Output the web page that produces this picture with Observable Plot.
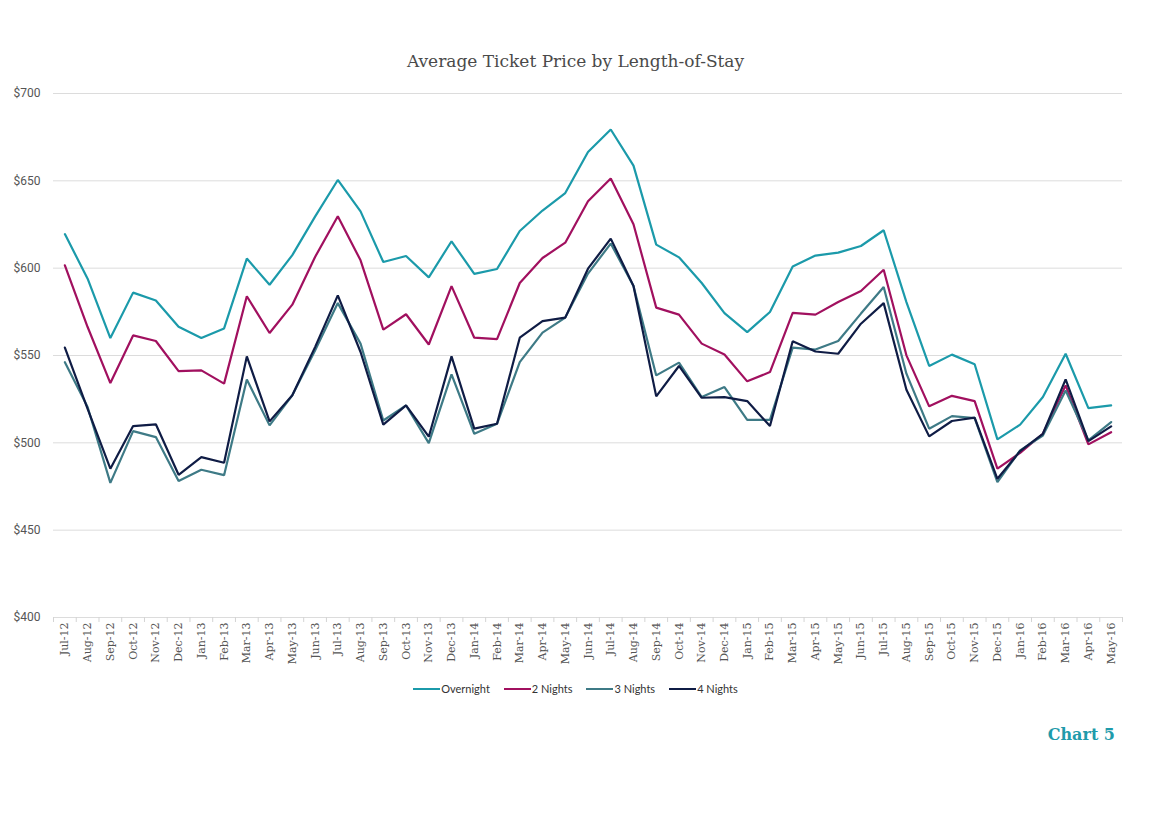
<!DOCTYPE html>
<html>
<head>
<meta charset="utf-8">
<script src="https://cdn.jsdelivr.net/npm/d3@7"></script>
<script src="https://cdn.jsdelivr.net/npm/@observablehq/plot@0.6"></script>
<style>
  html, body { margin: 0; padding: 0; background: #fff; }
  #wrap { position: relative; width: 1151px; height: 816px; }
  #title { position: absolute; left: 0; width: 1151px; top: 51px; text-align: center;
    font-family: "DejaVu Serif", serif; font-size: 17px; color: #4a4a4a; }
  #chart { position: absolute; left: 0; top: 80px; }
  #legend { position: absolute; top: 679px; left: 0; width: 1151px; text-align: center;
    font-family: Lato, "Open Sans", sans-serif; font-size: 11px; color: #333; }
  .item { display: inline-flex; align-items: center; margin: 0 7px; }
  .sw { display: inline-block; width: 27px; height: 2.5px; margin-right: 1px; }
  #caption { position: absolute; top: 725px; right: 36px;
    font-family: "DejaVu Serif", serif; font-weight: bold; font-size: 16px; color: #1f9bab; }
</style>
</head>
<body>
<div id="wrap">
  <div id="title"></div>
  <div id="chart"></div>
  <div id="legend"></div>
  <div id="caption"></div>
</div>
<script>
const titleText = "Average Ticket Price by Length-of-Stay";
const captionText = "Chart 5";
const months = ["Jul-12","Aug-12","Sep-12","Oct-12","Nov-12","Dec-12","Jan-13","Feb-13","Mar-13","Apr-13","May-13","Jun-13",
  "Jul-13","Aug-13","Sep-13","Oct-13","Nov-13","Dec-13","Jan-14","Feb-14","Mar-14","Apr-14","May-14","Jun-14",
  "Jul-14","Aug-14","Sep-14","Oct-14","Nov-14","Dec-14","Jan-15","Feb-15","Mar-15","Apr-15","May-15","Jun-15",
  "Jul-15","Aug-15","Sep-15","Oct-15","Nov-15","Dec-15","Jan-16","Feb-16","Mar-16","Apr-16","May-16"];
const seriesNames = ["Overnight", "2 Nights", "3 Nights", "4 Nights"];
const seriesColors = ["#1b9aaa", "#a1105f", "#3e7a86", "#0f1c45"];
const overnight = [619.5,594,560,586,581.5,566.5,560,565.5,605.5,590.5,607.5,629.5,
  650.5,632.5,603.5,607,594.7,615.4,596.7,599.5,621.3,633,643,666.5,
  679.4,658.7,613.5,606.2,591.5,574.3,563.4,574.9,601,607.2,608.9,612.7,
  621.7,580.6,544,550.5,545,502,510.4,526.2,551,519.9,521.4];
const nights2 = [601.6,566.3,534.2,561.5,558.3,541.1,541.5,533.9,583.9,562.9,579.1,606.4,
  629.7,604.5,564.8,573.6,556.3,589.7,560.2,559.4,591.5,605.8,614.6,638.3,
  651.3,625.1,577.4,573.4,556.8,550.6,535.2,540.5,574.4,573.4,580.6,586.9,
  599.1,550.1,520.9,526.9,523.9,485.2,494.3,505.2,532.9,499.1,506.1];
const nights3 = [546.2,520.5,477.1,506.7,503.3,478.1,484.6,481.5,536.2,510,527.2,552.9,
  580,556.8,512.8,521.4,499.8,539.2,505.2,510.9,546.2,563.1,571.7,596.9,
  614.1,589.8,538.6,545.9,526.2,531.9,513.2,513.2,554.5,553.4,558.3,574,
  589.2,539.6,508.1,515.3,514.2,477.5,495.7,504.2,530,501.4,511.9];
const nights4 = [554.5,519.5,485.2,509.6,510.6,481.7,491.8,488.6,549.5,512.3,527.2,554.8,
  584.4,552,510.4,521.4,503.5,549.5,508.1,510.9,560.2,569.7,571.7,599.7,
  616.9,589.8,526.6,544,525.8,526.2,523.9,509.6,558.2,552.3,551,568.2,
  580,530.4,503.7,512.5,514.4,479.4,495.3,505.2,536.3,501,509.4];
const yTicks = [400, 450, 500, 550, 600, 650, 700];

const allSeries = [overnight, nights2, nights3, nights4];
const data = [];
allSeries.forEach((vals, s) => vals.forEach((v, i) => data.push({i, month: months[i], series: seriesNames[s], value: v})));

document.getElementById("title").textContent = titleText;
document.getElementById("caption").textContent = captionText;

const idx = d3.range(months.length);
const boundaries = d3.range(-0.5, months.length, 1);

const chart = Plot.plot({
  width: 1151,
  height: 592,
  marginLeft: 53,
  marginRight: 29,
  marginTop: 13,
  marginBottom: 55,
  style: { fontFamily: "Roboto, sans-serif", background: "transparent" },
  x: { type: "linear", domain: [-0.5, months.length - 0.5], axis: null },
  y: { domain: [400, 700], axis: null },
  color: { domain: seriesNames, range: seriesColors },
  marks: [
    Plot.ruleY(yTicks, { stroke: "#dcdcdc", strokeWidth: 1 }),
    Plot.axisX({ ticks: boundaries, tickFormat: () => "", tickSize: 5, stroke: "#d4d4d4", label: null }),
    Plot.axisX({ ticks: idx, tickFormat: i => months[i], tickSize: 0, tickPadding: 5, tickRotate: -90,
      fontFamily: "DejaVu Serif, serif", fontSize: 11, fill: "#555", label: null }),
    Plot.axisY({ ticks: yTicks, tickFormat: d => "$" + d, tickSize: 0, tickPadding: 13,
      fontSize: 12, fill: "#555", fontFamily: "Roboto, sans-serif", label: null }),
    Plot.line(data, { x: "i", y: "value", z: "series", stroke: "series", strokeWidth: 2.2, strokeLinejoin: "miter" })
  ]
});
document.getElementById("chart").appendChild(chart);

const legend = document.getElementById("legend");
seriesNames.forEach((n, k) => {
  const it = document.createElement("span");
  it.className = "item";
  const sw = document.createElement("span");
  sw.className = "sw";
  sw.style.background = seriesColors[k];
  it.appendChild(sw);
  it.appendChild(document.createTextNode(n));
  legend.appendChild(it);
});
</script>
</body>
</html>
